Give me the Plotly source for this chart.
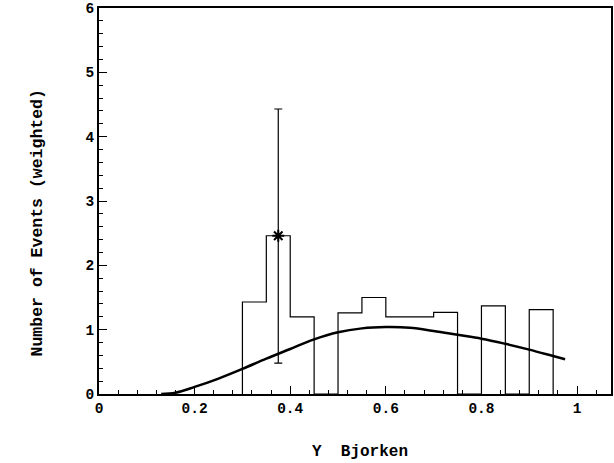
import plotly.graph_objects as go

# Histogram (bin edges every 0.05 from 0.30 to 0.95)
bin_edges = [0.30, 0.35, 0.40, 0.45, 0.50, 0.55, 0.60, 0.65, 0.70, 0.75, 0.80, 0.85, 0.90, 0.95]
bin_counts = [1.43, 2.46, 1.20, 0.0, 1.26, 1.50, 1.20, 1.20, 1.27, 0.0, 1.37, 0.0, 1.31]

# Error point
err_x = [0.375]
err_y = [2.46]
err_plus = [1.97]
err_minus = [1.98]

# Smooth curve
curve_x = [0.13, 0.16, 0.20, 0.25, 0.30, 0.35, 0.40, 0.45, 0.50, 0.55, 0.60, 0.65, 0.70, 0.75, 0.80, 0.85, 0.90, 0.95, 0.975]
curve_y = [0.0, 0.02, 0.11, 0.24, 0.39, 0.55, 0.70, 0.85, 0.96, 1.02, 1.04, 1.03, 0.98, 0.92, 0.86, 0.78, 0.69, 0.59, 0.54]

x_title = "Y  Bjorken"
y_title = "Number of Events (weighted)"

step_x = [bin_edges[0]] + bin_edges
step_y = [0.0] + bin_counts + [0.0]

font_main = "Liberation Mono"
X_RANGE = [0, 1.071]
Y_RANGE = [0, 6.0]

fig = go.Figure()
fig.add_trace(go.Scatter(x=step_x, y=step_y, mode="lines", line_shape="hv",
                         line=dict(color="black", width=1.2), hoverinfo="skip"))
fig.add_trace(go.Scatter(x=curve_x, y=curve_y, mode="lines", line_shape="spline",
                         line=dict(color="black", width=2.5), hoverinfo="skip"))
fig.add_trace(go.Scatter(x=err_x, y=err_y, mode="markers",
                         marker=dict(symbol="asterisk-open", size=10, color="black",
                                     line=dict(color="black", width=2)),
                         error_y=dict(type="data", symmetric=False, array=err_plus, arrayminus=err_minus,
                                      color="black", thickness=1.2, width=4)))

tick_font = dict(family=font_main, size=14.5, color="black", weight="bold")

fig.update_layout(
    width=614, height=463,
    margin=dict(l=99, r=1, t=7, b=69),
    paper_bgcolor="white", plot_bgcolor="white",
    showlegend=False,
    font=dict(family=font_main, color="black"),
    xaxis=dict(
        range=X_RANGE, tickmode="linear", tick0=0, dtick=0.2,
        ticks="inside", ticklen=8, tickwidth=1, tickcolor="black",
        showline=True, linecolor="black", linewidth=2, mirror=True,
        showgrid=False, zeroline=False, tickfont=tick_font,
    ),
    yaxis=dict(
        range=Y_RANGE, tickmode="linear", tick0=0, dtick=1,
        ticks="inside", ticklen=8, tickwidth=1, tickcolor="black",
        showline=True, linecolor="black", linewidth=2, mirror=True,
        showgrid=False, zeroline=False, ticklabeloverflow="allow",
        tickfont=tick_font,
    ),
    # overlay axes carrying only the minor ticks
    xaxis2=dict(
        range=X_RANGE, overlaying="x", side="bottom", anchor="y",
        tickmode="linear", tick0=0, dtick=0.04, ticks="inside", ticklen=4,
        tickwidth=1, tickcolor="black", showticklabels=False,
        showgrid=False, zeroline=False, showline=False,
    ),
    yaxis2=dict(
        range=Y_RANGE, overlaying="y", side="left", anchor="x",
        tickmode="linear", tick0=0, dtick=0.2, ticks="inside", ticklen=4,
        tickwidth=1, tickcolor="black", showticklabels=False,
        showgrid=False, zeroline=False, showline=False,
    ),
)
# invisible trace to activate overlay axes
fig.add_trace(go.Scatter(x=[X_RANGE[0]], y=[Y_RANGE[0]], xaxis="x2", yaxis="y2",
                         mode="markers", marker=dict(opacity=0), hoverinfo="skip"))

fig.add_annotation(text=y_title, xref="paper", yref="paper", x=-0.121, y=0.442,
                   textangle=-90, showarrow=False, xanchor="center", yanchor="middle",
                   font=dict(family=font_main, size=16.5, color="black", weight="bold"))
fig.add_annotation(text=x_title, xref="paper", yref="paper", x=0.51, y=-0.150,
                   showarrow=False, xanchor="center", yanchor="middle",
                   font=dict(family=font_main, size=16, color="black", weight="bold"))

fig.write_html("out.html")
